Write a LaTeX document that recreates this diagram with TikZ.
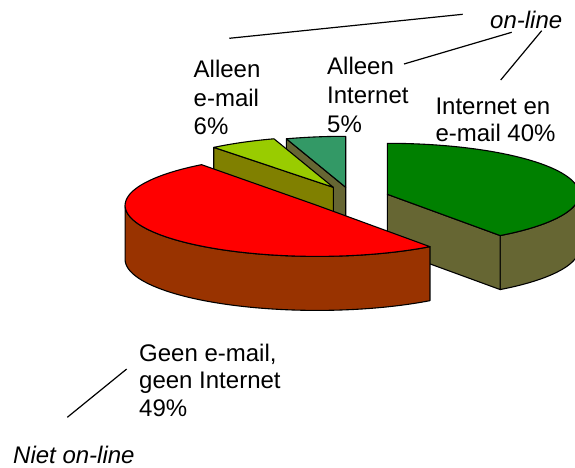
\documentclass[tikz,border=0pt]{standalone}
\usepackage{fontspec}
\setmainfont{Liberation Sans}

\definecolor{slRed}{HTML}{FF0000}
\definecolor{slBrown}{HTML}{993300}
\definecolor{slGreen}{HTML}{008000}
\definecolor{slDrab}{HTML}{666633}
\definecolor{slLime}{HTML}{99CC00}
\definecolor{slOlive}{HTML}{808000}
\definecolor{slTeal}{HTML}{339966}

\begin{document}
\begin{tikzpicture}[x=1pt,y=-1pt,line join=round,
  face/.style={draw=black,line width=1.1pt},
  conn/.style={draw=black,line width=1.2pt},
  lbl/.style={inner sep=0pt,anchor=base west,font=\fontsize{24pt}{#1pt}\selectfont}]
\useasboundingbox (0,0) rectangle (575,468);
\clip (0,0) rectangle (575,468);

% ellipse radii of the pie top and slice thickness
\def\ra{192}\def\rb{51}\def\hh{54}

% Alleen Internet (5%)
\def\pcx{345.7}\def\pcy{187.3}
\path[face,fill=slDrab] (\pcx,\pcy) -- ({\pcx+\ra*cos(108)},{\pcy-\rb*sin(108)}) -- ++(0,\hh) -- (\pcx,\pcy+\hh) -- cycle;
\path[face,fill=slTeal] (\pcx,\pcy) -- plot[domain=90:108,samples=20] ({\pcx+\ra*cos(\x)},{\pcy-\rb*sin(\x)}) -- cycle;

% Alleen e-mail (6%)
\def\pcx{333.3}\def\pcy{187.3}
\path[face,fill=slOlive] (\pcx,\pcy) -- ({\pcx+\ra*cos(128.5)},{\pcy-\rb*sin(128.5)}) -- ++(0,\hh) -- (\pcx,\pcy+\hh) -- cycle;
\path[face,fill=slLime] (\pcx,\pcy) -- plot[domain=108:128.5,samples=20] ({\pcx+\ra*cos(\x)},{\pcy-\rb*sin(\x)}) -- cycle;

% Internet en e-mail (40%)
\def\pcx{387.3}\def\pcy{194.3}
\path[face,fill=slDrab] plot[domain=-54:0,samples=40] ({\pcx+\ra*cos(\x)},{\pcy-\rb*sin(\x)})
  -- plot[domain=0:-54,samples=40] ({\pcx+\ra*cos(\x)},{\pcy+\hh-\rb*sin(\x)}) -- cycle;
\path[face,fill=slDrab] (\pcx,\pcy) -- ({\pcx+\ra*cos(-54)},{\pcy-\rb*sin(-54)}) -- ++(0,\hh) -- (\pcx,\pcy+\hh) -- cycle;
\path[face,fill=slGreen] (\pcx,\pcy) -- plot[domain=-54:90,samples=80] ({\pcx+\ra*cos(\x)},{\pcy-\rb*sin(\x)}) -- cycle;

% Geen e-mail, geen Internet (49%)
\def\pcx{317.1}\def\pcy{205.4}
\path[face,fill=slBrown] plot[domain=180:306,samples=70] ({\pcx+\ra*cos(\x)},{\pcy-\rb*sin(\x)})
  -- plot[domain=306:180,samples=70] ({\pcx+\ra*cos(\x)},{\pcy+\hh-\rb*sin(\x)}) -- cycle;
\path[face,fill=slRed] (\pcx,\pcy) -- plot[domain=127:306,samples=90] ({\pcx+\ra*cos(\x)},{\pcy-\rb*sin(\x)}) -- cycle;

% labels
\node[lbl=28.5] (lblmail) at (193.5,77.7) {\begin{tabular}[t]{@{}l@{}}Alleen\\e-mail\\6\%\end{tabular}};
\node[lbl=29] (lblnet) at (327,74.5) {\begin{tabular}[t]{@{}l@{}}Alleen\\Internet\\5\%\end{tabular}};
\node[lbl=26] (lblboth) at (435.3,115) {\begin{tabular}[t]{@{}l@{}}Internet en\\e-mail 40\%\end{tabular}};
\node[lbl=27.2] (lblnone) at (139,361.7) {\begin{tabular}[t]{@{}l@{}}Geen e-mail,\\geen Internet\\49\%\end{tabular}};
\node[lbl=28] (lblon) at (490,29) {\itshape on-line};
\node[lbl=28] (lbloff) at (13,463.5) {\itshape Niet on-line};

% leader lines
\coordinate (c1a) at (229.3,38.3);
\coordinate (c1b) at (462.7,14.3);
\coordinate (c2a) at (404,64);
\coordinate (c2b) at (511.7,32.3);
\coordinate (c3a) at (500.7,80);
\coordinate (c3b) at (541.7,30.7);
\coordinate (c4a) at (126.7,369);
\coordinate (c4b) at (67.3,417.3);
\draw[conn] (c1a) -- (c1b);
\draw[conn] (c2a) -- (c2b);
\draw[conn] (c3a) -- (c3b);
\draw[conn] (c4a) -- (c4b);
\end{tikzpicture}
\end{document}
